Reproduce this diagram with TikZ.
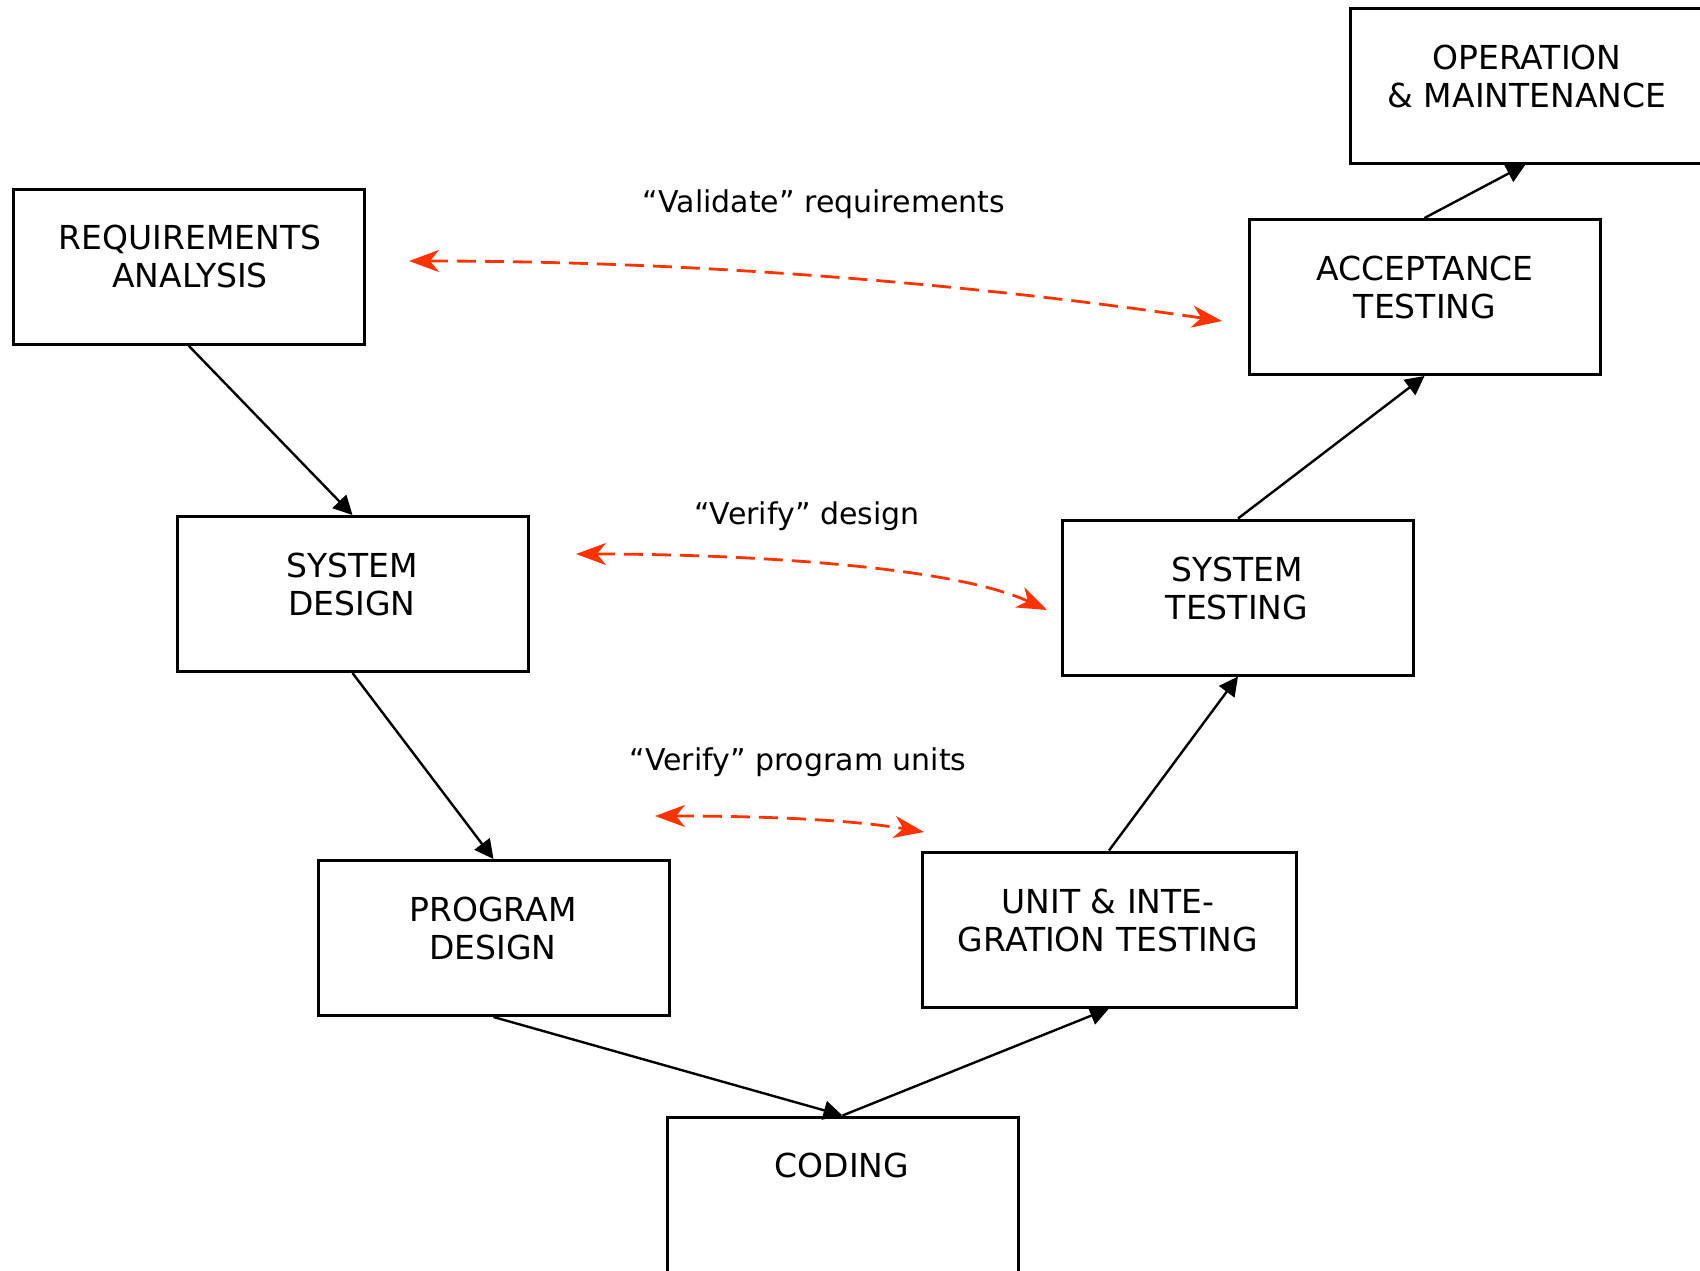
\documentclass[tikz,border=0pt]{standalone}
\usepackage{fontspec}
\setmainfont{DejaVu Sans}
\usetikzlibrary{arrows.meta}
\definecolor{vred}{HTML}{FF3300}
\begin{document}
\begin{tikzpicture}[x=1pt,y=-1pt,
  box/.style={draw=black,line width=3pt,rectangle,minimum width=351pt,minimum height=155pt,inner sep=0pt},
  boxtext/.style={align=center,font=\fontsize{33}{38}\selectfont,inner sep=0pt},
  lbl/.style={font=\fontsize{30}{34}\selectfont,inner sep=0pt},
  flow/.style={line width=2.4pt,-{Triangle[length=19pt,width=19pt]}},
  vv/.style={vred,line width=2.8pt,dash pattern=on 19pt off 9pt,{Stealth[length=30pt,width=22pt,inset=9pt]}-{Stealth[length=30pt,width=22pt,inset=9pt]}}]
\useasboundingbox (0,0) rectangle (1700,1270);
\node[box] (req) at (188.5,266.5) {};
\node[box] (sd) at (352.5,594) {};
\node[box] (pd) at (493.5,938) {};
\node[box] (cod) at (842.5,1194.5) {};
\node[box,minimum width=374pt] (unit) at (1109,929.5) {};
\node[box] (st) at (1238,597.5) {};
\node[box] (acc) at (1424.5,297) {};
\node[box] (om) at (1525.5,85.5) {};

\node[boxtext] (treq) at (190,256) {REQUIREMENTS\\ANALYSIS};
\node[boxtext] (tsd) at (352,584) {SYSTEM\\DESIGN};
\node[boxtext] (tpd) at (493,928) {PROGRAM\\DESIGN};
\node[boxtext] (tcod) at (842,1165) {CODING};
\node[boxtext] (tunit) at (1108,920) {UNIT \& INTE-\\GRATION TESTING};
\node[boxtext] (tst) at (1237,588) {SYSTEM\\TESTING};
\node[boxtext] (tacc) at (1425,287) {ACCEPTANCE\\TESTING};
\node[boxtext] (tom) at (1527,76) {OPERATION\\\& MAINTENANCE};

\draw[flow] (req.south) -- (sd.north);
\draw[flow] (sd.south) -- (pd.north);
\draw[flow] (pd.south) -- (cod.north);
\draw[flow] (cod.north) -- (unit.south);
\draw[flow] (unit.north) -- (st.south);
\draw[flow] (st.north) -- (acc.south);
\draw[flow] (acc.north) -- (om.south);

\coordinate (v1a) at (409,261);
\coordinate (v1b) at (1222,321);
\coordinate (v2a) at (576,554);
\coordinate (v2b) at (1047,610);
\coordinate (v3a) at (655,816);
\coordinate (v3b) at (924,832);
\draw[vv] (v1a) .. controls (680,261) and (951,281) .. (v1b);
\draw[vv] (v2a) .. controls (735,554) and (950,565) .. (v2b);
\draw[vv] (v3a) .. controls (740,816) and (840,818) .. (v3b);

\node[lbl] (l1) at (824,204) {“Validate” requirements};
\node[lbl] (l2) at (807,516) {“Verify” design};
\node[lbl] (l3) at (798,762) {“Verify” program units};
\end{tikzpicture}
\end{document}
